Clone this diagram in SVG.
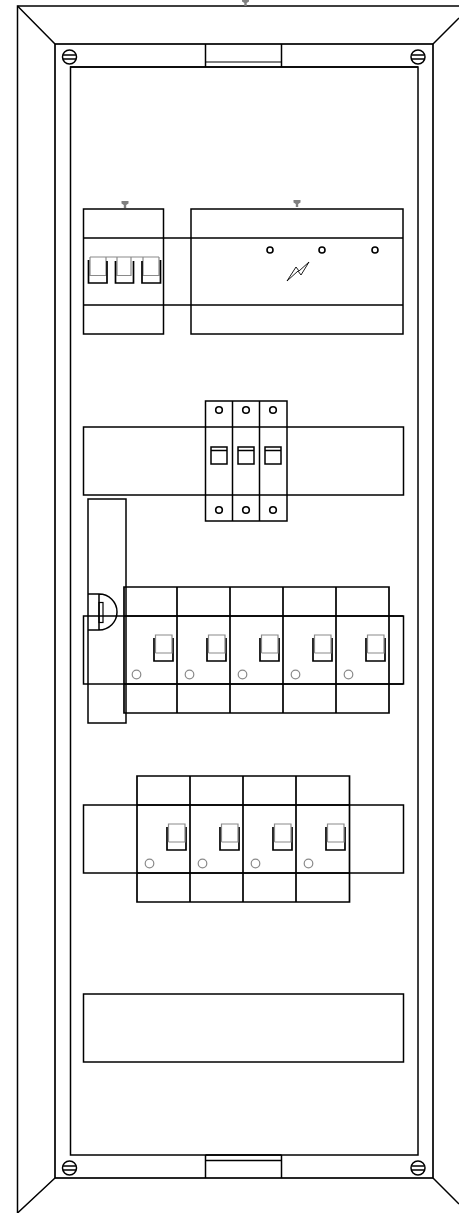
<svg xmlns="http://www.w3.org/2000/svg" width="459" height="1213" viewBox="0 0 459 1213">
<style>
.k{fill:none;stroke:#000;stroke-width:1.5}
.t{fill:none;stroke:#000;stroke-width:1.2}
.b{fill:none;stroke:#000;stroke-width:1.7}
.g{fill:none;stroke:#8a8a8a;stroke-width:1.2}
.w{fill:#fff;stroke:#000;stroke-width:1.5}
.p{fill:#808080;stroke:none}
.hole{fill:#fff;stroke:#000;stroke-width:1.6}
</style>
<defs>
<g id="screw"><circle r="7" class="k"/><path d="M-6.500-2H6.500M-6.500 2H6.500" class="b"/></g>
<g id="sw"><path d="M0 0V23H19V0" class="b"/><path d="M1.500 15V-3H18V15H1.500" class="g"/><circle cx="-17.500" cy="36.500" r="4.300" class="g"/></g>
<g id="mini"><rect width="16" height="17" class="k"/><path d="M0 3.500H16" class="k"/></g>
<path id="pin" class="p" d="M-3.500-3H3.500V-.5L1.200 1V4H-1.200V1L-3.500-.5Z"/>
</defs>
<g id="enclosure">
<path class="k" d="M17.500 1213V6H459"/>
<path class="k" d="M17.500 6L55 44M433 44L459 18M55 1178L17.500 1213M433 1178L459 1204"/>
<rect x="55" y="44" width="378" height="1134" class="b"/>
<rect x="70.500" y="67" width="347.500" height="1088" class="k"/>
<path class="b" d="M70 67H418"/>
<use href="#pin" x="245.500" y="2"/>
</g>
<g id="latch-top"><path class="k" d="M205.500 44V67M281.500 44V67"/><path class="t" d="M205.500 62H281.500"/></g>
<g id="latch-bottom"><path class="k" d="M205.500 1155V1178M281.500 1155V1178"/><path class="b" d="M205.500 1155H281.500M205.500 1160.500H281.500"/></g>
<g id="screws">
<use href="#screw" x="69.500" y="57"/><use href="#screw" x="418" y="57"/>
<use href="#screw" x="69.500" y="1168"/><use href="#screw" x="418" y="1168"/>
</g>
<g id="rail-1"><path class="b" d="M83.500 238H403M83.500 305H403"/></g>
<g id="breaker-1">
<rect x="83.500" y="209" width="80" height="125" class="k"/>
<use href="#pin" x="125" y="204"/>
<path class="g" d="M90 257H159M90 257V275.500H106V257M117 257V275.500H131V257M143 257V275.500H159V257"/>
<path class="b" d="M88.500 260V283H107V261M115.500 261V283H133.500V261M142 261V283H160.500V260"/>
</g>
<g id="breaker-2">
<rect x="191" y="209" width="212" height="125" class="k"/>
<use href="#pin" x="297" y="203"/>
<circle cx="270" cy="250" r="3" class="hole"/><circle cx="322" cy="250" r="3" class="hole"/><circle cx="375" cy="250" r="3" class="hole"/>
<path d="M287 281L296 267L299 271L309 262L301 275L298 271Z" fill="#fff" stroke="#000" stroke-width=".9"/>
</g>
<g id="rail-2"><rect x="83.500" y="427" width="320" height="68" class="k"/></g>
<g id="fuses">
<rect x="205.500" y="401" width="81.500" height="120" class="w"/>
<path class="k" d="M232.500 401V521M259.500 401V521M205.500 427H287M205.500 495H287"/>
<circle cx="219" cy="410" r="3.300" class="hole"/><circle cx="246" cy="410" r="3.300" class="hole"/><circle cx="273" cy="410" r="3.300" class="hole"/>
<circle cx="219" cy="510" r="3.300" class="hole"/><circle cx="246" cy="510" r="3.300" class="hole"/><circle cx="273" cy="510" r="3.300" class="hole"/>
<use href="#mini" x="211" y="447"/><use href="#mini" x="238" y="447"/><use href="#mini" x="265" y="447"/>
</g>
<g id="rail-3"><rect x="83.500" y="616" width="320" height="68" class="k"/></g>
<g id="handle">
<rect x="88" y="499" width="38" height="224" class="k"/>
<path class="k" d="M88 594H99A18 18 0 0 1 99 630H88M99 594V630"/>
<rect x="99" y="602.500" width="4" height="20" class="t"/>
</g>
<g id="row-3">
<path class="b" d="M124 587H389V713H124ZM177 587V713M230 587V713M283 587V713M336 587V713M124 616H403M124 684H403"/>
<use href="#sw" x="154" y="638"/><use href="#sw" x="207" y="638"/><use href="#sw" x="260" y="638"/><use href="#sw" x="313" y="638"/><use href="#sw" x="366" y="638"/>
</g>
<g id="rail-4"><rect x="83.500" y="805" width="320" height="68" class="k"/></g>
<g id="row-4">
<path class="b" d="M137 776H349.500V902H137ZM190 776V902M243 776V902M296 776V902M137 805H349.500M137 873H349.500"/>
<use href="#sw" x="167" y="827"/><use href="#sw" x="220" y="827"/><use href="#sw" x="273" y="827"/><use href="#sw" x="326" y="827"/>
</g>
<g id="rail-5"><rect x="83.500" y="994" width="320" height="68" class="k"/></g>
</svg>
